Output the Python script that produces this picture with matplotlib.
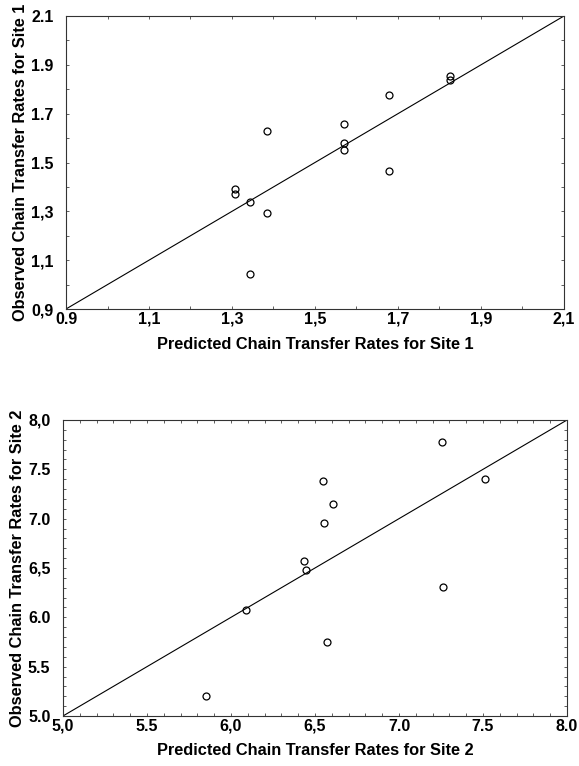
import numpy as np
import matplotlib.pyplot as plt
from matplotlib.ticker import FixedLocator, MultipleLocator

plt.rcParams['font.family'] = ['Liberation Sans', 'DejaVu Sans']
plt.rcParams['font.weight'] = 'bold'

# site 1: predicted vs observed chain transfer rates
pred1 = [1.307, 1.307, 1.344, 1.384, 1.384, 1.344, 1.571, 1.571, 1.571, 1.678, 1.678, 1.825, 1.825]
obs1 = [1.390, 1.371, 1.339, 1.294, 1.628, 1.045, 1.659, 1.580, 1.551, 1.776, 1.464, 1.854, 1.838]
ticks1 = [0.9, 1.1, 1.3, 1.5, 1.7, 1.9, 2.1]
xlab1 = ["0.9", "1,1", "1,3", "1,5", "1,7", "1,9", "2,1"]
ylab1 = ["0,9", "1,1", "1,3", "1.5", "1.7", "1.9", "2.1"]

# site 2
pred2 = [7.256, 7.510, 6.546, 6.605, 6.554, 6.437, 6.445, 7.260, 6.087, 6.573, 5.849]
obs2 = [7.774, 7.402, 7.385, 7.145, 6.956, 6.571, 6.480, 6.307, 6.074, 5.753, 5.203]
ticks2 = [5.0, 5.5, 6.0, 6.5, 7.0, 7.5, 8.0]
xlab2 = ["5,0", "5.5", "6,0", "6,5", "7.0", "7.5", "8.0"]
ylab2 = ["5.0", "5.5", "6.0", "6,5", "7.0", "7.5", "8,0"]

fig = plt.figure(figsize=(5.79, 7.66), dpi=100)
ax1 = fig.add_axes([0.114, 0.5966, 0.860, 0.3825])
ax2 = fig.add_axes([0.1088, 0.0653, 0.8705, 0.3864])


def panel(ax, px, py, ticks, xl, yl, minor, xlabel, ylabel):
    lo, hi = ticks[0], ticks[-1]
    ax.plot([lo, hi], [lo, hi], color='black', lw=0.8)
    ax.plot(px, py, 'o', mfc='none', mec='black', ms=5, mew=0.9)
    ax.set_xlim(lo, hi)
    ax.set_ylim(lo, hi)
    ax.xaxis.set_major_locator(FixedLocator(ticks))
    ax.yaxis.set_major_locator(FixedLocator(ticks))
    ax.set_xticklabels(xl)
    ax.set_yticklabels(yl)
    ax.xaxis.set_minor_locator(MultipleLocator(minor))
    ax.yaxis.set_minor_locator(MultipleLocator(minor))
    ax.tick_params(which='both', direction='in', top=True, right=True,
                   length=2.5, width=0.6, color='#444444', labelsize=11.5)
    ax.tick_params(axis='x', pad=2)
    ax.tick_params(axis='y', pad=9)
    for s in ax.spines.values():
        s.set_linewidth(0.8)
        s.set_color('#333333')
    ax.set_xlabel(xlabel, fontsize=11.8, fontweight='bold', labelpad=7)
    ax.set_ylabel(ylabel, fontsize=11.8, fontweight='bold', labelpad=2)


panel(ax1, pred1, obs1, ticks1, xlab1, ylab1, 0.1,
      "Predicted Chain Transfer Rates for Site 1",
      "Observed Chain Transfer Rates for Site 1")
panel(ax2, pred2, obs2, ticks2, xlab2, ylab2, 0.1,
      "Predicted Chain Transfer Rates for Site 2",
      "Observed Chain Transfer Rates for Site 2")

fig.savefig("out.png", dpi=100)
